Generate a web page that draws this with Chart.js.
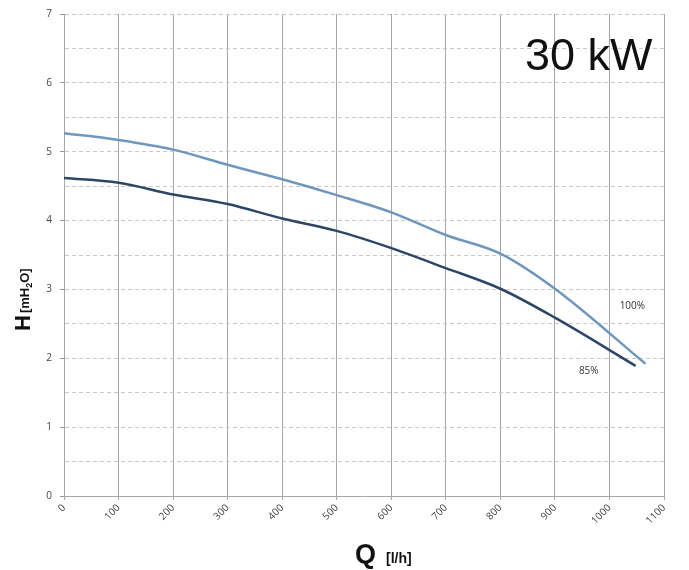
<!DOCTYPE html>
<html><head><meta charset="utf-8">
<script src="https://cdn.jsdelivr.net/npm/chart.js@4/dist/chart.umd.min.js"></script>
<style>html,body{margin:0;padding:0;background:#fff}canvas{display:block}</style>
</head><body>
<canvas id="c" width="689" height="570"></canvas>
<script>
// Flow Q [l/h] and head H [mH2O]
const q100 = [0, 100, 200, 300, 400, 500, 600, 700, 800, 900, 1066];
const h100 = [5.27, 5.17, 5.03, 4.81, 4.60, 4.37, 4.12, 3.79, 3.52, 3.01, 1.92];
const q85 = [0, 100, 200, 300, 400, 500, 600, 700, 800, 900, 1048];
const h85 = [4.62, 4.55, 4.38, 4.24, 4.03, 3.85, 3.60, 3.31, 3.01, 2.59, 1.89];
const seriesLabels = ["100%", "85%"];
const labelPos = [[1042, 2.75], [962, 1.82]];
const titleText = "30 kW";

const toPts = (xs, ys) => xs.map((x, i) => ({x: x, y: ys[i]}));

const textPlugin = {
  id: 'texts',
  afterDraw(chart) {
    const ctx = chart.ctx;
    const xs = chart.scales.x, ys = chart.scales.y;
    ctx.save();
    ctx.fillStyle = '#111';
    ctx.font = '45px "Liberation Sans", Arial, sans-serif';
    ctx.textAlign = 'left'; ctx.textBaseline = 'alphabetic';
    ctx.fillText(titleText, 525, 70);
    // series labels
    ctx.fillStyle = '#333';
    ctx.font = '10px "Open Sans", sans-serif';
    ctx.textAlign = 'center'; ctx.textBaseline = 'middle';
    seriesLabels.forEach((t, i) => {
      ctx.fillText(t, xs.getPixelForValue(labelPos[i][0]), ys.getPixelForValue(labelPos[i][1]));
    });
    // x title
    ctx.fillStyle = '#111';
    ctx.textAlign = 'left'; ctx.textBaseline = 'alphabetic';
    ctx.font = 'bold 27px "Liberation Sans", Arial, sans-serif';
    ctx.fillText('Q', 355, 563);
    ctx.font = 'bold 14px "Liberation Sans", Arial, sans-serif';
    ctx.fillText('[l/h]', 386, 563);
    // y title rotated
    ctx.translate(30, 331);
    ctx.rotate(-Math.PI / 2);
    let x = 0;
    ctx.font = 'bold 22px "Liberation Sans", Arial, sans-serif';
    ctx.fillText('H', x, 0); x += ctx.measureText('H').width + 2;
    ctx.font = 'bold 13px "Liberation Sans", Arial, sans-serif';
    ctx.fillText('[mH', x, -1); x += ctx.measureText('[mH').width;
    ctx.font = 'bold 9px "Liberation Sans", Arial, sans-serif';
    ctx.fillText('2', x, 2); x += ctx.measureText('2').width;
    ctx.font = 'bold 13px "Liberation Sans", Arial, sans-serif';
    ctx.fillText('O]', x, -1);
    ctx.restore();
  }
};

new Chart(document.getElementById('c'), {
  type: 'line',
  data: {
    datasets: [
      {label: seriesLabels[0], data: toPts(q100, h100), borderColor: '#6f96bf', borderWidth: 2.5,
       pointRadius: 0, cubicInterpolationMode: 'monotone', fill: false},
      {label: seriesLabels[1], data: toPts(q85, h85), borderColor: '#2c4668', borderWidth: 2.5,
       pointRadius: 0, cubicInterpolationMode: 'monotone', fill: false}
    ]
  },
  options: {
    responsive: false, animation: false,
    layout: {padding: {left: 0, top: 10, right: 25, bottom: 0}},
    plugins: {legend: {display: false}, tooltip: {enabled: false}},
    scales: {
      x: {
        type: 'linear', min: 0, max: 1100,
        afterFit(s) { s.height = 74; },
        ticks: {stepSize: 100, minRotation: 45, maxRotation: 45, color: '#444',
                font: {size: 10, family: '"Open Sans", sans-serif'}, padding: 2,
                callback: v => String(v)},
        grid: {color: '#a6a6a6', lineWidth: 1, tickLength: 4},
        border: {color: '#a6a6a6'}
      },
      y: {
        min: 0, max: 7,
        afterFit(s) { s.width = 64; },
        ticks: {stepSize: 0.5, color: '#444', padding: 8,
                font: {size: 10, family: '"Open Sans", sans-serif'},
                callback: v => Number.isInteger(v) ? String(v) : ''},
        grid: {color: c => c.tick && c.tick.value === 0 ? 'rgba(0,0,0,0)' : '#cfc6bd', lineWidth: 1, tickLength: 4,
               tickColor: c => c.tick && Number.isInteger(c.tick.value) ? '#999' : 'rgba(0,0,0,0)'},
        border: {color: '#a6a6a6', dash: [4, 3]}
      }
    }
  },
  plugins: [textPlugin]
});
</script>
</body></html>
